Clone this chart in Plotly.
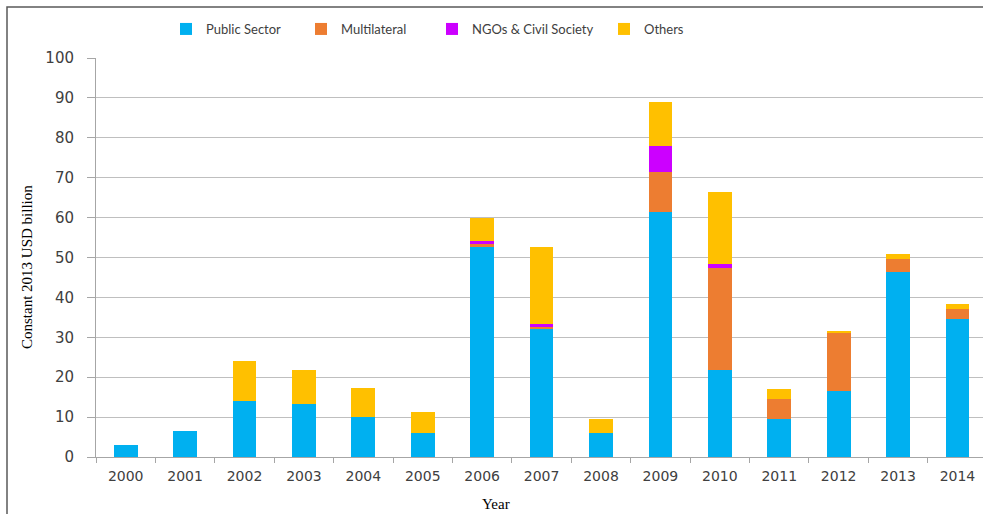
import plotly.graph_objects as go

years = [str(y) for y in range(2000, 2015)]
public_sector = [3.1, 6.4, 14.1, 13.2, 10.0, 6.0, 52.6, 32.2, 5.9, 61.4, 21.9, 9.5, 16.5, 46.3, 34.7]
multilateral = [0, 0, 0, 0, 0, 0, 0.8, 0.5, 0, 10.0, 25.5, 5.0, 14.5, 3.4, 2.5]
ngos = [0, 0, 0, 0, 0, 0, 0.8, 0.6, 0, 6.6, 1.0, 0, 0, 0, 0]
others = [0, 0, 9.9, 8.7, 7.4, 5.3, 5.7, 19.4, 3.7, 11.0, 18.0, 2.6, 0.6, 1.3, 1.2]

series = [
    ("Public Sector", public_sector, "#00B0F0", "legend"),
    ("Multilateral", multilateral, "#ED7D31", "legend2"),
    ("NGOs & Civil Society", ngos, "#CC00FF", "legend3"),
    ("Others", others, "#FFC000", "legend4"),
]

fig = go.Figure()
for name, vals, color, lg in series:
    fig.add_trace(go.Bar(x=years, y=vals, name=name, marker=dict(color=color, line=dict(width=0)),
                         legend=lg))

W, H = 983, 514
L, R, T, B = 96, 0, 58, 57
pw = W - L - R
ph = H - T - B

def px_x(x):
    return (x - L) / pw

def px_y(y):
    return (H - B - y) / ph

legend_font = dict(family="Lato", size=13, color="#404040")
text_px = [203, 338, 469, 641]
leg = {}
for i, key in enumerate(["legend", "legend2", "legend3", "legend4"]):
    leg[key] = dict(orientation="h", x=px_x(text_px[i] - 37), xanchor="left",
                    y=px_y(29), yanchor="middle", font=legend_font,
                    bgcolor="rgba(0,0,0,0)", itemwidth=30, traceorder="normal")

fig.update_layout(
    width=W, height=H,
    margin=dict(l=L, r=R, t=T, b=B, autoexpand=False),
    barmode="stack", bargap=0.6,
    plot_bgcolor="white", paper_bgcolor="white",
    showlegend=True,
    xaxis=dict(type="category", range=[-0.5, 14.43], showgrid=False,
               showline=True, linecolor="#A6A6A6", linewidth=1,
               ticks="outside", tickson="boundaries", ticklen=5, tickcolor="#A6A6A6",
               ticklabelstandoff=6,
               tickfont=dict(family="DejaVu Sans", size=14, color="#404040")),
    yaxis=dict(range=[0, 100], dtick=10, showgrid=True, gridcolor="#BFBFBF", gridwidth=1,
               showline=True, linecolor="#A6A6A6", linewidth=1, zeroline=False,
               ticks="outside", ticklen=8, tickcolor="#A6A6A6", ticklabelstandoff=10,
               tickfont=dict(family="DejaVu Sans", size=15, color="#404040")),
    annotations=[
        dict(text="Constant 2013 USD billion", xref="paper", yref="paper",
             x=px_x(27), y=px_y(267), xanchor="center", yanchor="middle",
             textangle=-90, showarrow=False,
             font=dict(family="Liberation Serif", size=15, color="#000000")),
        dict(text="Year", xref="paper", yref="paper", x=px_x(496), y=px_y(514),
             xanchor="center", yanchor="bottom", showarrow=False,
             font=dict(family="Liberation Serif", size=15, color="#000000")),
    ],
    shapes=[
        dict(type="rect", xref="paper", yref="paper", x0=px_x(7), x1=px_x(1100),
             y0=px_y(600), y1=px_y(7), line=dict(color="#595959", width=1.5),
             fillcolor="rgba(0,0,0,0)", layer="above"),
    ],
    **leg,
)

fig.write_html(
    "out.html",
    config={"displayModeBar": False},
    post_script="document.body.style.margin='0';document.body.style.overflow='hidden';"
                "document.documentElement.style.overflow='hidden';",
)
